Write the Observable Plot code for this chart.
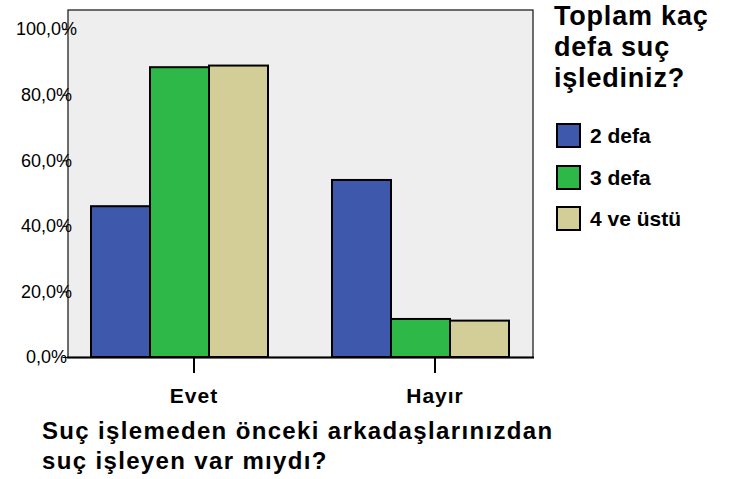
<!DOCTYPE html>
<html>
<head>
<meta charset="utf-8">
<script src="https://cdn.jsdelivr.net/npm/d3@7"></script>
<script src="https://cdn.jsdelivr.net/npm/@observablehq/plot@0.6"></script>
<style>
  html, body { margin: 0; padding: 0; background: #fff; }
  body { font-family: "Liberation Sans", Arial, sans-serif; }
  #wrap { position: relative; width: 730px; height: 479px; overflow: hidden; }
  #chart { position: absolute; left: 0; top: 0; }
  .ltitle { position: absolute; left: 554px; top: 1px; font-weight: bold; font-size: 27px; line-height: 31px; letter-spacing: 0.8px; color: #000; }
  .item { position: absolute; left: 556px; height: 25px; display: flex; align-items: center; }
  .sw { width: 21px; height: 21px; border: 2px solid #000; box-sizing: content-box; }
  .item span { margin-left: 9px; font-weight: bold; font-size: 21px; color: #000; }
  .xtitle { position: absolute; left: 42px; top: 416px; font-weight: bold; font-size: 24px; line-height: 30px; letter-spacing: 1.35px; color: #000; }
  svg g.fxlab text { letter-spacing: 1px; }
</style>
</head>
<body>
<div id="wrap">
  <div id="chart"></div>
  <div class="ltitle">Toplam kaç<br>defa suç<br>işlediniz?</div>
  <div id="legend"></div>
  <div class="xtitle">Suç işlemeden önceki arkadaşlarınızdan<br>suç işleyen var mıydı?</div>
</div>
<script>
const categories = ["Evet", "Hayır"];
const series = ["2 defa", "3 defa", "4 ve üstü"];
const evetValues = [46.0, 88.4, 88.9];
const hayirValues = [54.0, 11.6, 11.1];
const yTicks = [0, 20, 40, 60, 80, 100];
const colors = ["#3e58ac", "#2eb848", "#d3ce97"];

const data = [];
series.forEach((s, i) => {
  data.push({cat: categories[0], series: s, value: evetValues[i]});
  data.push({cat: categories[1], series: s, value: hayirValues[i]});
});

const fmt = d => d.toFixed(1).replace(".", ",") + "%";
const outer = -22.5; // frame extends past the outer facet bands

const chart = Plot.plot({
  width: 730,
  height: 479,
  marginLeft: 67,
  marginRight: 197,
  marginTop: 9.5,
  marginBottom: 122,
  style: {fontFamily: "'Liberation Sans', Arial, sans-serif", background: "transparent", color: "#000"},
  fx: {domain: categories, paddingInner: 0.256, paddingOuter: 0.093, label: null},
  x: {domain: series, padding: 0, axis: null},
  y: {domain: [0, 106], label: null},
  color: {domain: series, range: colors},
  marks: [
    Plot.frame({facet: "super", fill: "#eeeeee", stroke: "#222", strokeWidth: 1.3, insetLeft: outer, insetRight: outer}),
    Plot.barY(data, {fx: "cat", x: "series", y: "value", fill: "series", stroke: "#000", strokeWidth: 2}),
    Plot.frame({facet: "super", anchor: "bottom", stroke: "#000", strokeWidth: 2, insetLeft: outer, insetRight: outer}),
    Plot.axisY({ticks: yTicks, tickFormat: fmt, tickSize: 5, tickPadding: 16.5, textAnchor: "middle", fontSize: 18, label: null, stroke: "#000", dx: outer}),
    Plot.axisFx({anchor: "bottom", tickSize: 16, tickPadding: 15, dx: 14, fontSize: 21, fontWeight: "bold", label: null, strokeWidth: 2, stroke: "#000", className: "fxlab"})
  ]
});
document.getElementById("chart").appendChild(chart);

const legend = document.getElementById("legend");
const legendTops = [123, 165, 206];
series.forEach((s, i) => {
  const item = document.createElement("div");
  item.className = "item";
  item.style.top = legendTops[i] + "px";
  const sw = document.createElement("div");
  sw.className = "sw";
  sw.style.background = colors[i];
  const t = document.createElement("span");
  t.textContent = s;
  item.appendChild(sw);
  item.appendChild(t);
  legend.appendChild(item);
});
</script>
</body>
</html>
